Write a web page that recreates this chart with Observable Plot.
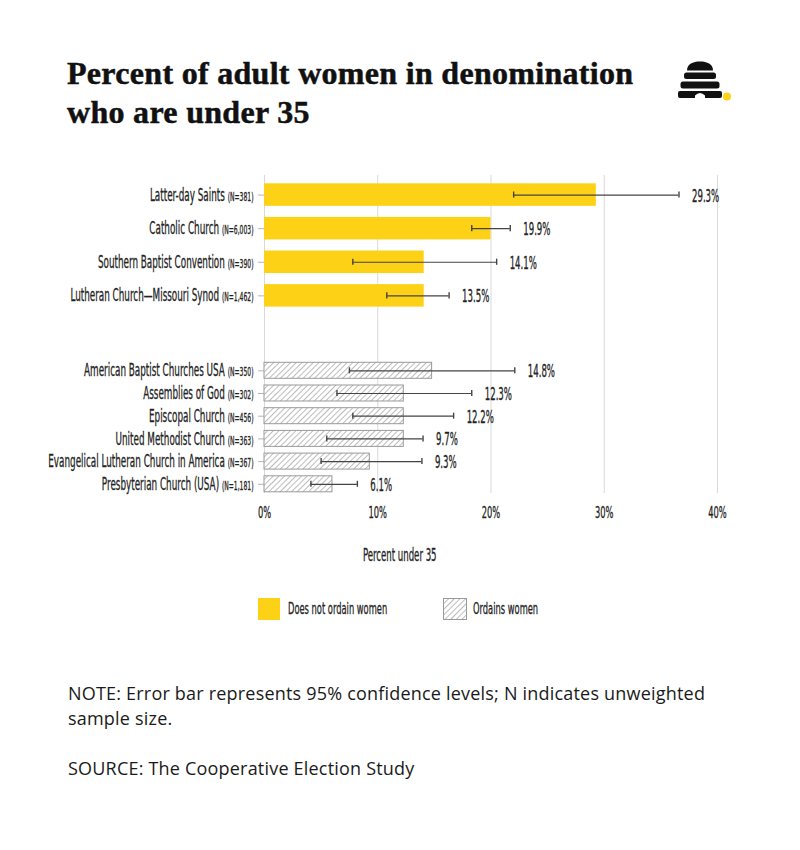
<!DOCTYPE html>
<html>
<head>
<meta charset="utf-8">
<script src="https://cdn.jsdelivr.net/npm/d3@7"></script>
<script src="https://cdn.jsdelivr.net/npm/@observablehq/plot@0.6"></script>
<style>
  html, body { margin: 0; padding: 0; background: #fff; }
  body { width: 800px; height: 850px; position: relative; overflow: hidden; }
  .abs { position: absolute; }
  .title { left: 67px; top: 54px; font-family: "Liberation Serif", "DejaVu Serif", serif; font-weight: 700; font-size: 32px; line-height: 39px; letter-spacing: 0.3px; color: #111; -webkit-text-stroke: 0.5px #111; }
  .note { left: 68px; font-family: "Open Sans", Roboto, sans-serif; font-size: 18px; line-height: 25px; letter-spacing: 0.2px; color: #1a1a1a; }
  .cond { display: inline-block; white-space: nowrap; -webkit-text-stroke: 0.3px #222; }
  svg text { stroke: #222; stroke-width: 0.3px; }
</style>
</head>
<body>
<svg width="0" height="0" style="position:absolute;left:0;top:0">
  <defs>
    <pattern id="hatch" patternUnits="userSpaceOnUse" width="4" height="4" patternTransform="rotate(45)">
      <rect width="4" height="4" fill="#ffffff"></rect>
      <line x1="0" y1="0" x2="0" y2="4" stroke="#7a7a7a" stroke-width="1"></line>
    </pattern>
  </defs>
</svg>

<div class="abs title">Percent of adult women in denomination<br>who are under 35</div>

<svg class="abs" style="left:676px;top:60px" width="60" height="45" viewBox="0 0 60 45">
  <path d="M11,10.5 C11,4 17,1.5 24,1.5 C31,1.5 37,4 37,10.5 Z" fill="#111"></path>
  <rect x="8" y="12.5" width="32" height="6.5" rx="2.5" fill="#111"></rect>
  <rect x="4.5" y="21.5" width="39" height="7" rx="2.5" fill="#111"></rect>
  <rect x="2" y="31" width="44" height="7" rx="2" fill="#111"></rect>
  <path d="M19,38.5 L19,35.5 Q24,30.5 29,35.5 L29,38.5 Z" fill="#fff"></path>
  <circle cx="51" cy="36.5" r="4" fill="#FDD116"></circle>
</svg>

<div id="chart1" class="abs" style="left:0;top:175px"></div>
<div id="chart2" class="abs" style="left:0;top:330px"></div>

<div id="xlabel" class="abs" style="left:0;top:543px;width:800px;text-align:center;font-size:17px;line-height:24px;color:#222"></div>

<div id="legend"></div>

<div class="abs note" style="top:681px">NOTE: Error bar represents 95% confidence levels; N indicates unweighted<br>sample size.</div>
<div class="abs note" style="top:756px">SOURCE: The Cooperative Election Study</div>

<script>
// ---- data ----
const denominations = [
  "Latter-day Saints",
  "Catholic Church",
  "Southern Baptist Convention",
  "Lutheran Church\u2014Missouri Synod",
  "American Baptist Churches USA",
  "Assemblies of God",
  "Episcopal Church",
  "United Methodist Church",
  "Evangelical Lutheran Church in America",
  "Presbyterian Church (USA)"
];
const sampleSizes = ["381", "6,003", "390", "1,462", "350", "302", "456", "363", "367", "1,181"];
const ordainsWomen = [false, false, false, false, true, true, true, true, true, true];
// bar lengths as drawn in the picture (percent)
const barPercent = [29.3, 20.0, 14.1, 14.1, 14.8, 12.3, 12.3, 12.3, 9.3, 6.0];
// 95% confidence interval ends (percent)
const ciLow  = [22.0, 18.3, 7.8, 10.8, 7.5, 6.4, 7.8, 5.5, 5.0, 4.1];
const ciHigh = [36.6, 21.7, 20.5, 16.3, 22.1, 18.3, 16.7, 14.0, 13.9, 8.2];
const valueLabels = ["29.3%", "19.9%", "14.1%", "13.5%", "14.8%", "12.3%", "12.2%", "9.7%", "9.3%", "6.1%"];
const xTicks = [0, 10, 20, 30, 40];
const legendLabels = ["Does not ordain women", "Ordains women"];
const axisTitle = "Percent under 35";

const YELLOW = "#FDD116";
const COND = "'Liberation Sans Narrow', 'Arial Narrow', 'DejaVu Sans Condensed', sans-serif";

// horizontal condensing factor so the installed font matches the reference's very narrow face
const ctx = document.createElement("canvas").getContext("2d");
ctx.font = `17.5px ${COND}`;
const S = 75 / ctx.measureText("Latter-day Saints").width;

const rows = denominations.map((name, i) => ({
  name, n: sampleSizes[i], ordains: ordainsWomen[i],
  pct: barPercent[i], lo: ciLow[i], hi: ciHigh[i], label: valueLabels[i]
}));
const nLookup = new Map(rows.map(r => [r.name, r.n]));
const topRows = rows.filter(r => !r.ordains);
const botRows = rows.filter(r => r.ordains);

const svgns = "http://www.w3.org/2000/svg";
function postProcess(svg) {
  d3.select(svg).selectAll('g[aria-label="y-axis tick label"] text').each(function () {
    const name = this.textContent;
    const n = nLookup.get(name);
    this.textContent = name + " ";
    const ts = document.createElementNS(svgns, "tspan");
    ts.setAttribute("font-size", "12");
    ts.textContent = `(N=${n})`;
    this.appendChild(ts);
  });
  d3.select(svg).selectAll("text").each(function () {
    const t = this.getAttribute("transform");
    if (t && t.includes("translate")) {
      this.setAttribute("transform", t + ` scale(${S},1)`);
    } else {
      const x = this.getAttribute("x") || 0, y = this.getAttribute("y") || 0;
      this.removeAttribute("x"); this.removeAttribute("y");
      this.setAttribute("transform", `translate(${x},${y}) scale(${S},1)`);
    }
  });
  return svg;
}

const common = {
  width: 800,
  marginLeft: 264,
  marginRight: 83,
  style: { fontFamily: COND, fontSize: "17px", color: "#222", background: "transparent", overflow: "visible" }
};

function marks(data, capInset, fill, stroke) {
  return [
    Plot.ruleX(xTicks, { stroke: "#d9d9d9", strokeWidth: 1 }),
    Plot.axisY({ tickSize: 6, tickPadding: 5, stroke: "#b5b5b5", fill: "#222", fontSize: 17.5, label: null }),
    Plot.barX(data, { x: "pct", y: "name", fill, stroke, strokeWidth: 1 }),
    Plot.ruleY(data, { y: "name", x1: "lo", x2: "hi", stroke: "#444", strokeWidth: 1.2 }),
    Plot.tickX(data, { x: "lo", y: "name", stroke: "#444", strokeWidth: 1.4, insetTop: capInset, insetBottom: capInset }),
    Plot.tickX(data, { x: "hi", y: "name", stroke: "#444", strokeWidth: 1.4, insetTop: capInset, insetBottom: capInset }),
    Plot.text(data, { x: "hi", y: "name", text: "label", dx: 13, dy: 1, textAnchor: "start", fontSize: 17, fill: "#222" })
  ];
}

const chart1 = Plot.plot({
  ...common,
  height: 155,
  marginTop: 0,
  marginBottom: 0,
  x: { domain: [0, 40], axis: null },
  y: { domain: topRows.map(d => d.name), paddingInner: 0.33, paddingOuter: 0.4716, align: 0.262, round: false },
  marks: marks(topRows, 8.2, YELLOW, null)
});

const chart2 = Plot.plot({
  ...common,
  height: 203,
  marginTop: 0,
  marginBottom: 40,
  x: { domain: [0, 40] },
  y: { domain: botRows.map(d => d.name), paddingInner: 0.295, paddingOuter: 0.738, align: 0.964, round: false },
  marks: [
    ...marks(botRows, 5, "url(#hatch)", "#9a9a9a"),
    Plot.axisX(xTicks, { tickFormat: d => d + "%", tickSize: 0, tickPadding: 13, fontSize: 16.5, fill: "#222", label: null })
  ]
});

document.getElementById("chart1").appendChild(postProcess(chart1));
document.getElementById("chart2").appendChild(postProcess(chart2));

// axis title (HTML, centred on the page as in the reference)
const xl = document.getElementById("xlabel");
xl.innerHTML = `<span class="cond" style="font-family:${COND};transform:scaleX(${S});transform-origin:center">${axisTitle}</span>`;

// legend
const lg = document.getElementById("legend");
lg.innerHTML = `
  <div class="abs" style="left:258px;top:598px;width:22px;height:22px;background:${YELLOW}"></div>
  <div class="abs" style="left:288px;top:597px;font-family:${COND};font-size:16.5px;line-height:24px;color:#222">
    <span class="cond" style="transform:scaleX(${S});transform-origin:left center">${legendLabels[0]}</span></div>
  <svg class="abs" style="left:443px;top:598px" width="24" height="22">
    <rect x="0.5" y="0.5" width="23" height="21" fill="url(#hatch)" stroke="#9a9a9a"></rect>
  </svg>
  <div class="abs" style="left:473px;top:597px;font-family:${COND};font-size:16.5px;line-height:24px;color:#222">
    <span class="cond" style="transform:scaleX(${S});transform-origin:left center">${legendLabels[1]}</span></div>
`;
</script>
</body>
</html>
